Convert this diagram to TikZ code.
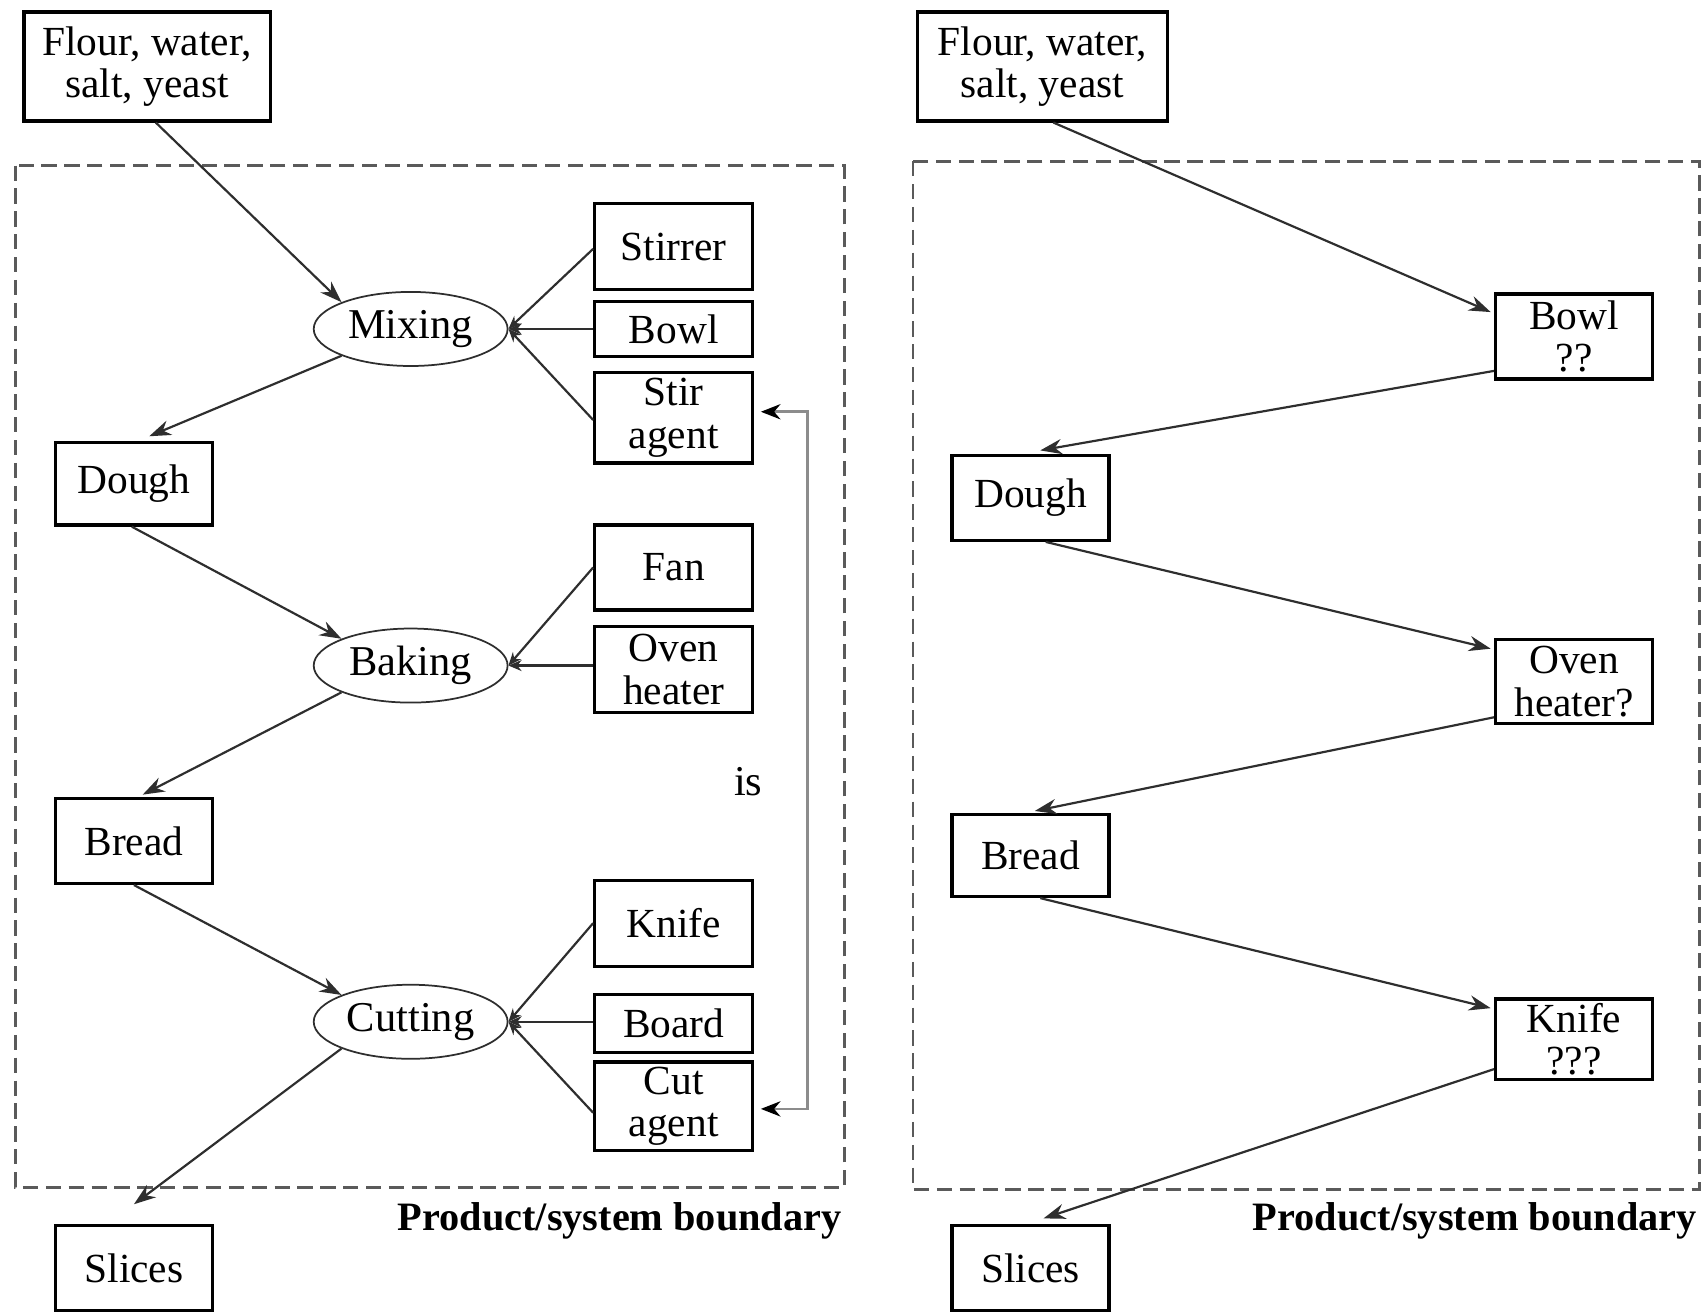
\documentclass[tikz,border=0pt]{standalone}
\usepackage{fontspec}
\setmainfont{Liberation Serif}
\usetikzlibrary{shapes.geometric,arrows.meta}
\definecolor{arrowgray}{HTML}{2E2E2E}
\definecolor{dashgray}{HTML}{5A5A5A}
\definecolor{fbgray}{HTML}{8C8C8C}
\tikzset{
  box/.style={draw=black, line width=1.5pt, inner sep=0pt, align=center,
    font=\fontsize{19}{19.5}\selectfont, text=black},
  proc/.style={draw=arrowgray, line width=0.8pt, ellipse, inner sep=0pt,
    minimum width=89pt, minimum height=34pt, font=\fontsize{19.5}{19.5}\selectfont},
  arr/.style={draw=arrowgray, line width=1pt, -{Stealth[length=10pt,width=7pt]}},
  tool/.style={draw=arrowgray, line width=1pt, -{Stealth[length=6pt,width=5pt]}},
  fb/.style={draw=fbgray, line width=1.2pt, {Stealth[length=9pt,width=7pt,color=black]}-{Stealth[length=9pt,width=7pt,color=black]}},
  bound/.style={draw=dashgray, line width=1.2pt, dash pattern=on 7pt off 3.5pt},
  blabel/.style={font=\fontsize{18.5}{20}\selectfont\bfseries, anchor=east, inner sep=0pt}
}
\begin{document}
\begin{tikzpicture}[x=0.5pt,y=-0.5pt]
\useasboundingbox[fill=white] (0,0) rectangle (1568,1204);

% ---------------- Left panel ----------------
\draw[bound] (14,152) rectangle (775,1090);
\node[blabel] (labL) at (773,1121) {Product/system boundary};

\node[box, minimum width=113pt, minimum height=50pt] (flourL) at (135,61) {Flour, water,\\salt, yeast};
\node[proc] (mixing) at (377,302) {Mixing};
\node[box, minimum width=72.5pt, minimum height=39.5pt] (stirrer) at (618.5,226.5) {Stirrer};
\node[box, minimum width=72.5pt, minimum height=25pt] (bowlL) at (618.5,302) {Bowl};
\node[box, minimum width=72.5pt, minimum height=41.5pt] (stir) at (618.5,383.5) {Stir\\agent};
\node[box, minimum width=72pt, minimum height=38pt] (doughL) at (123,444) {Dough};
\node[proc] (baking) at (377,611) {Baking};
\node[box, minimum width=72.5pt, minimum height=39pt] (fan) at (618.5,521) {Fan};
\node[box, minimum width=72.5pt, minimum height=39.5pt] (oven) at (618.5,614.5) {Oven\\heater};
\node[font=\fontsize{19.5}{20}\selectfont, inner sep=0pt] (isL) at (687,718) {is};
\node[box, minimum width=72pt, minimum height=39pt] (breadL) at (123,772) {Bread};
\node[proc] (cutting) at (377,938) {Cutting};
\node[box, minimum width=72.5pt, minimum height=39.5pt] (knife) at (618.5,847.5) {Knife};
\node[box, minimum width=72.5pt, minimum height=26.5pt] (board) at (618.5,939.5) {Board};
\node[box, minimum width=72.5pt, minimum height=40.5pt] (cutag) at (618.5,1015.5) {Cut\\agent};
\node[box, minimum width=72pt, minimum height=39pt] (slicesL) at (123,1164) {Slices};

\draw[arr] ([xshift=4pt]flourL.south) -- (mixing.north west);
\draw[arr] (mixing.south west) -- ([xshift=7pt,yshift=2pt]doughL.north);
\draw[arr] ([xshift=-1pt]doughL.south) -- (baking.north west);
\draw[arr] (baking.south west) -- ([xshift=4pt,yshift=1pt]breadL.north);
\draw[arr] (breadL.south) -- (cutting.north west);
\draw[arr] (cutting.south west) -- ([yshift=9pt]slicesL.north);

\draw[tool] ([yshift=-1pt]stirrer.west) -- (mixing.east);
\draw[tool] (bowlL.west) -- (mixing.east);
\draw[tool] ([yshift=-1pt]stir.west) -- (mixing.east);
\draw[tool] (fan.west) -- (baking.east);
\draw[tool] (oven.west |- baking.east) -- (baking.east);
\draw[tool] (knife.west) -- (cutting.east);
\draw[tool] (board.west |- cutting.east) -- (cutting.east);
\draw[tool] ([yshift=-3pt]cutag.west) -- (cutting.east);

\draw[fb] ([xshift=3pt,yshift=2.75pt]stir.east) -- ++(21.5pt,0) |- ([xshift=3pt,yshift=-1.25pt]cutag.east);

% ---------------- Right panel ----------------
\draw[bound] (838,148) rectangle (1560,1092);
\node[blabel] (labR) at (1558,1121) {Product/system boundary};

\node[box, minimum width=115pt, minimum height=50pt] (flourR) at (957,61) {Flour, water,\\salt, yeast};
\node[box, minimum width=72pt, minimum height=39pt] (bowlR) at (1445,309) {Bowl\\??};
\node[box, minimum width=72pt, minimum height=39pt] (doughR) at (946,457) {Dough};
\node[box, minimum width=72pt, minimum height=38.5pt] (ovenR) at (1445,625.5) {Oven\\heater?};
\node[box, minimum width=72pt, minimum height=37.5pt] (breadR) at (946,785.5) {Bread};
\node[box, minimum width=72pt, minimum height=37pt] (knifeR) at (1445,954) {Knife\\???};
\node[box, minimum width=72pt, minimum height=39pt] (slicesR) at (946,1164) {Slices};

\draw[arr] ([xshift=5pt]flourR.south) -- ([xshift=-1.5pt,yshift=-9pt]bowlR.north west);
\draw[arr] ([yshift=4.5pt]bowlR.south west) -- ([xshift=4.5pt,yshift=1.5pt]doughR.north);
\draw[arr] ([xshift=7pt]doughR.south) -- ([xshift=-1.5pt,yshift=-5pt]ovenR.north west);
\draw[arr] ([yshift=3.5pt]ovenR.south west) -- ([xshift=2pt,yshift=1pt]breadR.north);
\draw[arr] ([xshift=4.5pt]breadR.south) -- ([xshift=-1.5pt,yshift=-5pt]knifeR.north west);
\draw[arr] ([yshift=5.5pt]knifeR.south west) -- ([xshift=6pt,yshift=2.5pt]slicesR.north);
\end{tikzpicture}
\end{document}
